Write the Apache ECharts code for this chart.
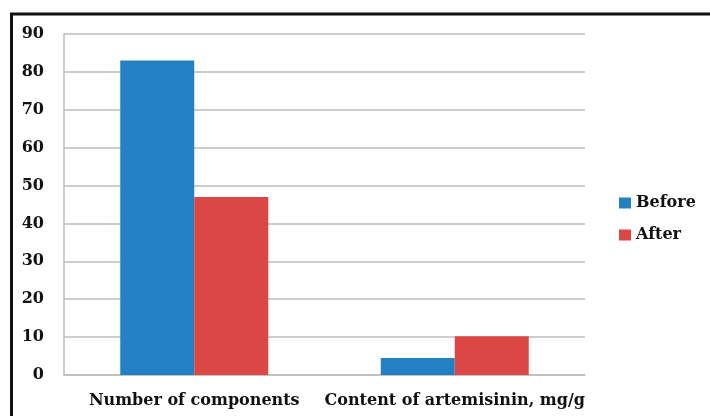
<!DOCTYPE html>
<html><head><meta charset="utf-8">
<script src="https://cdn.jsdelivr.net/npm/echarts@6/dist/echarts.min.js"></script>
<style>html,body{margin:0;padding:0;background:#fff}#c{width:710px;height:416px}</style>
</head><body><div id="c"></div>
<script>
const categories = ['Number of components', 'Content of artemisinin, mg/g'];
const seriesNames = ['Before', 'After'];
const beforeValues = [83, 4.5];
const afterValues = [47, 10.2];
const yTicks = [0, 10, 20, 30, 40, 50, 60, 70, 80, 90];

const font = 'DejaVu Serif';
const chart = echarts.init(document.getElementById('c'), null, {renderer: 'canvas'});
chart.setOption({
  animation: false,
  backgroundColor: '#fff',
  graphic: [
    {type: 'line', shape: {x1: 10, y1: 14, x2: 710, y2: 14}, style: {stroke: '#111', lineWidth: 3}},
    {type: 'line', shape: {x1: 11.5, y1: 13, x2: 11.5, y2: 416}, style: {stroke: '#111', lineWidth: 3}}
  ],
  grid: {left: 64, right: 125, top: 34, bottom: 41, containLabel: false},
  legend: {
    orient: 'vertical', left: 614, top: 190,
    itemWidth: 12, itemHeight: 11, itemGap: 16,
    icon: 'rect',
    textStyle: {fontFamily: font, fontWeight: 'bold', fontSize: 16, color: '#111'},
    data: seriesNames
  },
  xAxis: {
    type: 'category', data: categories,
    axisLine: {show: true, lineStyle: {color: '#bdbdbd', width: 1.5}},
    axisTick: {show: false},
    axisLabel: {fontFamily: font, fontWeight: 'bold', fontSize: 16, color: '#111', margin: 18, interval: 0}
  },
  yAxis: {
    type: 'value', min: yTicks[0], max: yTicks[yTicks.length - 1], interval: 10,
    axisLine: {show: true, lineStyle: {color: '#bdbdbd', width: 1.5}},
    axisTick: {show: false},
    splitLine: {lineStyle: {color: '#bdbdbd', width: 1.5}},
    axisLabel: {fontFamily: font, fontWeight: 'bold', fontSize: 16, color: '#111', margin: 20}
  },
  series: [
    {name: seriesNames[0], type: 'bar', data: beforeValues, barWidth: 74, barGap: '0%', itemStyle: {color: '#2381c3'}},
    {name: seriesNames[1], type: 'bar', data: afterValues, barWidth: 74, barGap: '0%', itemStyle: {color: '#da4744'}}
  ]
});
</script></body></html>
